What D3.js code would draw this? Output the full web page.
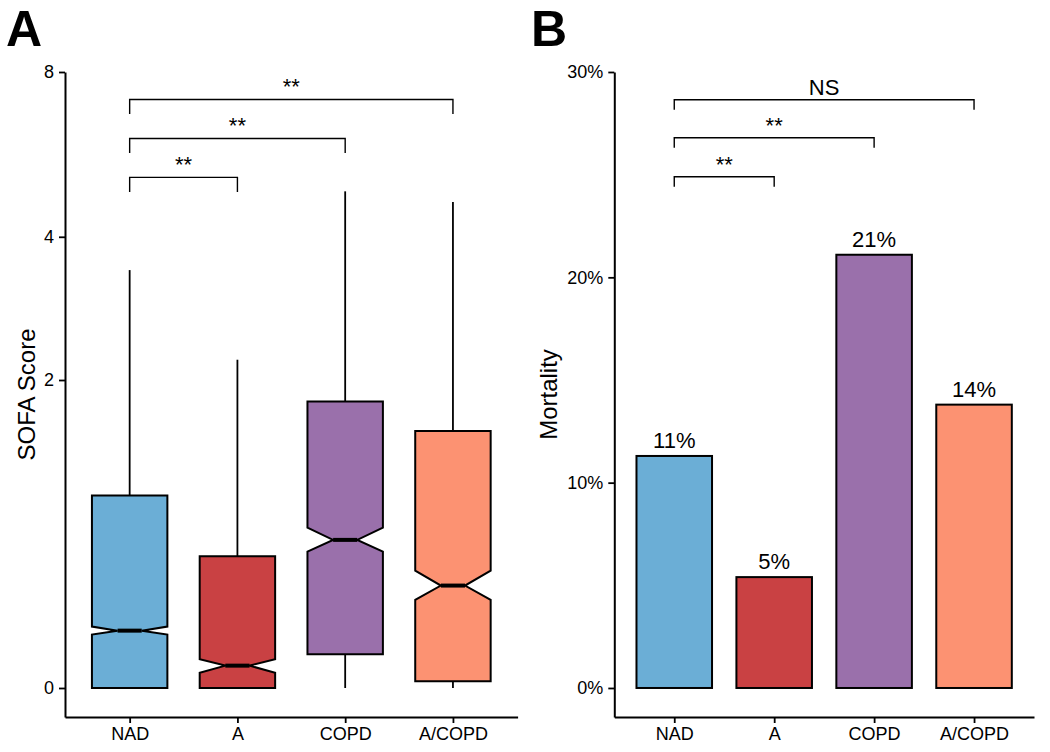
<!DOCTYPE html>
<html>
<head>
<meta charset="utf-8">
<script src="https://cdn.jsdelivr.net/npm/d3@7"></script>
<style>
  html, body { margin: 0; padding: 0; background: #fff; }
  svg text { font-family: "Liberation Sans", Arial, Helvetica, sans-serif; fill: #000; }
</style>
</head>
<body>
<svg id="chart" width="1050" height="752"></svg>
<script>
// ---------- data ----------
const categories = ["NAD", "A", "COPD", "A/COPD"];
const colors = ["#6BAED6", "#C94143", "#9A70AB", "#FC9272"];

// Panel A: SOFA score box plots (notched)
const sofaWhiskerLow  = [0, 0, 0, 0];
const sofaQ1          = [0, 0, 0.128, 0.024];
const sofaNotchLow    = [0.210, 0.056, 0.627, 0.369];
const sofaMedian      = [0.227, 0.083, 0.696, 0.441];
const sofaNotchHigh   = [0.245, 0.108, 0.772, 0.520];
const sofaQ3          = [0.987, 0.600, 1.779, 1.500];
const sofaWhiskerHigh = [3.44, 2.225, 4.88, 4.66];
const sofaTicks = [0, 2, 4, 8];

// Panel A brackets
const sofaBracketFrom  = ["NAD", "NAD", "NAD"];
const sofaBracketTo    = ["A", "COPD", "A/COPD"];
const sofaBracketLevel = [5.18, 6.10, 7.16];
const sofaBracketLabel = ["**", "**", "**"];

// Panel B: mortality
const mortality = [0.113, 0.054, 0.211, 0.138];
const mortalityLabels = ["11%", "5%", "21%", "14%"];
const mortalityTicks = [0, 0.1, 0.2, 0.3];

// Panel B brackets
const mortBracketFrom  = ["NAD", "NAD", "NAD"];
const mortBracketTo    = ["A", "COPD", "A/COPD"];
const mortBracketLevel = [0.249, 0.268, 0.2865];
const mortBracketLabel = ["**", "**", "NS"];

// ---------- drawing ----------
const svg = d3.select("#chart");
const panelTop = 72, panelBottom = 717;

function styleAxis(g) {
  g.select(".domain").attr("stroke", "#000").attr("stroke-width", 2);
  g.selectAll(".tick line").attr("stroke", "#000").attr("stroke-width", 1.8);
  g.selectAll(".tick text").attr("font-size", 18).attr("fill", "#000");
}

function drawBrackets(g, x, y, from, to, level, label, tickLen) {
  from.forEach((f, i) => {
    const x0 = x(f), x1 = x(to[i]), yy = y(level[i]);
    g.append("path")
      .attr("d", `M${x0},${yy + tickLen}L${x0},${yy}L${x1},${yy}L${x1},${yy + tickLen}`)
      .attr("fill", "none").attr("stroke", "#000").attr("stroke-width", 1.4);
    g.append("text")
      .attr("x", (x0 + x1) / 2).attr("y", yy - 5)
      .attr("text-anchor", "middle").attr("font-size", 22)
      .text(label[i]);
  });
}

// ----- Panel A -----
{
  const left = 65, right = 517.6;
  const g = svg.append("g");
  const x = d3.scalePoint().domain(categories).range([left, right]).padding(0.6);
  const y = d3.scaleSymlog().constant(1).domain([-0.109, 8]).range([panelBottom, panelTop]);
  const bw = x.step() * 0.7;
  const indent = bw * 0.34;

  categories.forEach((c, i) => {
    const cx = x(c), x0 = cx - bw / 2, x1 = cx + bw / 2;
    // whiskers
    g.append("line").attr("x1", cx).attr("x2", cx)
      .attr("y1", y(sofaQ3[i])).attr("y2", y(sofaWhiskerHigh[i]))
      .attr("stroke", "#000").attr("stroke-width", 1.8);
    if (sofaWhiskerLow[i] < sofaQ1[i]) {
      g.append("line").attr("x1", cx).attr("x2", cx)
        .attr("y1", y(sofaQ1[i])).attr("y2", y(sofaWhiskerLow[i]))
        .attr("stroke", "#000").attr("stroke-width", 1.8);
    }
    const yq3 = y(sofaQ3[i]), yq1 = y(sofaQ1[i]), ym = y(sofaMedian[i]);
    const ynh = y(sofaNotchHigh[i]), ynl = y(sofaNotchLow[i]);
    const p = `M${x0},${yq3}L${x1},${yq3}L${x1},${ynh}L${x1 - indent},${ym}L${x1},${ynl}L${x1},${yq1}` +
              `L${x0},${yq1}L${x0},${ynl}L${x0 + indent},${ym}L${x0},${ynh}Z`;
    g.append("path").attr("d", p).attr("fill", colors[i])
      .attr("stroke", "#000").attr("stroke-width", 2).attr("stroke-linejoin", "miter");
    g.append("line").attr("x1", x0 + indent).attr("x2", x1 - indent)
      .attr("y1", ym).attr("y2", ym).attr("stroke", "#000").attr("stroke-width", 4);
  });

  g.append("g").attr("transform", `translate(${left},0)`)
    .call(d3.axisLeft(y).tickValues(sofaTicks).tickFormat(d3.format("d")).tickSize(6).tickSizeOuter(0).tickPadding(5))
    .call(styleAxis);
  g.append("g").attr("transform", `translate(0,${panelBottom})`)
    .call(d3.axisBottom(x).tickSize(6).tickSizeOuter(0).tickPadding(4.5))
    .call(styleAxis);

  drawBrackets(g, x, y, sofaBracketFrom, sofaBracketTo, sofaBracketLevel, sofaBracketLabel, 14.5);

  g.append("text").attr("transform", `translate(35,${(panelTop + panelBottom) / 2}) rotate(-90)`)
    .attr("text-anchor", "middle").attr("font-size", 24).text("SOFA Score");
  g.append("text").attr("x", 6).attr("y", 46).attr("font-size", 50).attr("font-weight", "bold").text("A");
}

// ----- Panel B -----
{
  const left = 614.3, right = 1034;
  const g = svg.append("g");
  const x = d3.scalePoint().domain(categories).range([left, right]).padding(0.6);
  const y = d3.scaleLinear().domain([-0.01413, 0.30]).range([panelBottom, panelTop]);
  const bw = x.step() * 0.756;

  categories.forEach((c, i) => {
    const cx = x(c);
    g.append("rect").attr("x", cx - bw / 2).attr("width", bw)
      .attr("y", y(mortality[i])).attr("height", y(0) - y(mortality[i]))
      .attr("fill", colors[i]).attr("stroke", "#000").attr("stroke-width", 2);
    g.append("text").attr("x", cx).attr("y", y(mortality[i]) - 8)
      .attr("text-anchor", "middle").attr("font-size", 22).text(mortalityLabels[i]);
  });

  g.append("g").attr("transform", `translate(${left},0)`)
    .call(d3.axisLeft(y).tickValues(mortalityTicks).tickFormat(d3.format(".0%")).tickSize(6).tickSizeOuter(0).tickPadding(5))
    .call(styleAxis);
  g.append("g").attr("transform", `translate(0,${panelBottom})`)
    .call(d3.axisBottom(x).tickSize(6).tickSizeOuter(0).tickPadding(4.5))
    .call(styleAxis);

  drawBrackets(g, x, y, mortBracketFrom, mortBracketTo, mortBracketLevel, mortBracketLabel, 10);

  g.append("text").attr("transform", `translate(557,${(panelTop + panelBottom) / 2}) rotate(-90)`)
    .attr("text-anchor", "middle").attr("font-size", 24).text("Mortality");
  g.append("text").attr("x", 531).attr("y", 46).attr("font-size", 50).attr("font-weight", "bold").text("B");
}
</script>
</body>
</html>
